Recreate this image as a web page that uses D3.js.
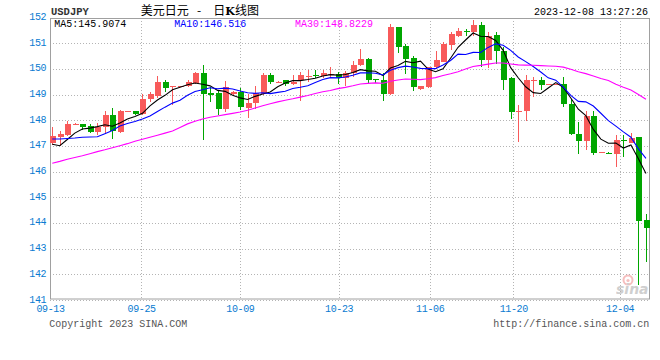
<!DOCTYPE html>
<html><head><meta charset="utf-8">
<script src="https://cdn.jsdelivr.net/npm/d3@7/dist/d3.min.js"></script>
<style>html,body{margin:0;padding:0;background:#fff}</style>
</head><body>
<svg id="chart" width="660" height="360"></svg>
<script>
const symbol = "USDJPY";
const titleMain = "美元日元";
const titleSep = "-";
const titleSub = ["日", "K", "线图"];
const timestamp = "2023-12-08 13:27:26";
const copyright = "Copyright 2023 SINA.COM";
const siteUrl = "http://finance.sina.com.cn";

const opens = [147.10,147.34,147.42,147.85,147.86,147.77,147.56,147.75,148.21,147.55,
148.35,148.36,148.23,148.83,148.95,149.50,149.31,149.31,149.32,149.44,
149.86,149.08,149.05,148.44,149.02,149.09,148.47,148.68,149.01,149.77,
149.50,149.55,149.42,149.55,149.70,149.78,149.73,149.79,149.79,149.66,
149.83,150.14,150.39,149.59,149.57,149.03,151.62,150.90,150.44,149.22,
149.31,150.06,150.29,150.94,151.29,151.49,151.45,151.71,150.33,151.32,
150.71,149.64,148.37,148.38,149.52,149.57,149.41,149.41,149.42,148.64,
147.47,147.20,148.17,146.74,146.74,146.68,147.22,147.13,147.33,144.10];
const highs = [147.75,147.60,147.97,147.88,147.87,147.85,147.88,148.36,148.47,148.40,
148.37,148.37,149.01,149.12,149.73,149.58,149.33,149.33,149.55,149.90,
150.16,149.30,149.18,149.53,149.14,149.25,149.01,149.34,149.83,149.83,
149.52,149.56,149.77,149.87,149.94,149.96,149.95,150.06,149.87,149.93,
150.31,150.77,150.44,149.62,149.83,151.74,151.63,150.97,150.50,149.35,
150.09,150.70,151.04,151.42,151.61,151.56,151.90,151.82,151.43,151.45,
150.86,149.69,148.60,149.77,149.68,149.68,149.43,149.43,149.68,148.82,
147.92,148.36,148.36,146.76,146.75,147.43,147.43,147.50,147.34,144.34];
const lows = [147.02,147.00,147.38,147.84,147.64,147.52,147.42,147.50,147.27,147.52,
148.34,148.20,148.20,148.71,148.87,149.12,148.60,149.30,149.30,149.40,
147.23,148.70,148.20,148.31,149.00,148.41,148.08,148.44,149.00,149.41,
149.49,149.32,149.38,148.75,149.51,149.64,149.64,149.70,149.42,149.35,
149.70,150.10,149.40,149.47,148.75,149.00,150.64,149.81,149.14,149.18,
149.25,149.99,150.28,150.72,151.23,151.30,151.30,150.09,150.02,150.21,
149.19,148.05,147.14,147.97,148.90,149.18,149.40,149.40,148.53,147.43,
146.68,146.84,146.65,146.73,146.67,146.20,146.57,147.10,141.60,142.48];
const closes = [147.40,147.45,147.86,147.86,147.74,147.56,147.75,148.21,147.58,148.36,
148.36,148.23,148.83,149.03,149.50,149.27,149.32,149.32,149.50,149.86,
149.03,148.99,148.44,149.31,149.12,148.50,148.68,149.05,149.77,149.51,
149.51,149.42,149.51,149.77,149.73,149.77,149.83,149.80,149.66,149.86,
150.16,150.38,149.57,149.57,149.03,151.62,150.87,150.39,149.31,149.34,
150.06,150.35,150.97,151.36,151.48,151.48,151.71,150.35,151.30,150.71,
149.55,148.34,148.38,149.55,149.56,149.38,149.42,149.42,148.64,147.47,
147.20,148.17,146.74,146.75,146.68,147.23,147.20,147.32,144.09,143.79];

const ma5 = [147.07,147.01,147.25,147.50,147.662,147.694,147.754,147.824,147.768,147.892,
148.052,148.148,148.272,148.562,148.79,148.972,149.19,149.288,149.382,149.454,
149.406,149.34,149.164,149.126,148.978,148.872,148.81,148.932,149.024,149.102,
149.304,149.452,149.544,149.544,149.588,149.64,149.722,149.78,149.758,149.784,
149.862,149.972,149.926,149.908,149.742,150.034,150.132,150.296,150.244,150.306,
149.994,149.89,150.006,150.416,150.844,151.128,151.40,151.276,151.264,151.11,
150.724,150.05,149.656,149.306,149.076,149.042,149.258,149.466,149.284,148.866,
148.43,148.18,147.644,147.266,147.108,147.114,146.92,147.036,146.504,145.926];
const ma10 = [147.27,147.27,147.29,147.31,147.34,147.35,147.36,147.48,147.60,147.777,
147.873,147.951,148.048,148.165,148.341,148.512,148.669,148.78,148.972,149.122,
149.189,149.265,149.226,149.254,149.216,149.139,149.075,149.048,149.075,149.04,
149.088,149.131,149.238,149.284,149.345,149.472,149.587,149.662,149.651,149.686,
149.751,149.847,149.853,149.833,149.763,149.948,150.052,150.111,150.076,150.024,
150.014,150.011,150.151,150.33,150.575,150.561,150.645,150.641,150.84,150.977,
150.926,150.725,150.466,150.285,150.093,149.883,149.654,149.561,149.295,148.971,
148.736,148.719,148.555,148.275,147.987,147.772,147.55,147.34,146.885,146.517];
const ma30 = [146.33,146.40,146.48,146.55,146.62,146.70,146.78,146.85,146.93,147.01,
147.09,147.18,147.26,147.34,147.42,147.50,147.58,147.72,147.86,147.96,
148.05,148.12,148.17,148.22,148.27,148.32,148.39,148.48,148.57,148.646,
148.717,148.782,148.837,148.901,148.967,149.041,149.110,149.163,149.233,149.283,
149.343,149.414,149.439,149.457,149.441,149.520,149.571,149.607,149.601,149.583,
149.618,149.663,149.747,149.816,149.894,149.994,150.095,150.138,150.189,150.229,
150.230,150.194,150.157,150.149,150.144,150.131,150.117,150.104,150.070,149.991,
149.892,149.818,149.724,149.630,149.552,149.405,149.283,149.181,149.007,148.822];

const maLegend = ["MA5:145.9074", "MA10:146.516", "MA30:148.8229"];
const maColors = ["#000000", "#0000ff", "#ff00ff"];
const yTicks = [141,142,143,144,145,146,147,148,149,150,151,152];
const tickIndex = [0, 12, 25, 38, 50, 61, 75];
const tickLabels = ["09-13", "09-25", "10-09", "10-23", "11-06", "11-20", "12-04"];

const N = closes.length;
const svg = d3.select("#chart");
const mono = "'Liberation Mono','DejaVu Sans Mono',monospace";
const axisBlue = "#0a7bd1";
const upColor = "#f85a5a", downColor = "#00a600";

const L = 50, R = 649, T = 18, B = 299;
const y = d3.scaleLinear().domain([141, 152]).range([300, 17.6]);
const x = d3.scaleBand().domain(d3.range(N)).range([48.5, 649.7]);
const xt = d3.scalePoint().domain(d3.range(N)).range([50, 650]);
const cx = i => x(i) + x.step() / 2;

// grid
const grid = svg.append("g").attr("stroke", "#b4b4b4").attr("stroke-dasharray", "1,2").attr("fill", "none");
grid.selectAll("line.h").data(yTicks.filter(v => v < 152)).join("line")
  .attr("x1", L).attr("x2", R + 1)
  .attr("y1", v => Math.round(y(v)) + 0.5).attr("y2", v => Math.round(y(v)) + 0.5);
grid.selectAll("line.v").data(tickIndex.filter(i => i > 0)).join("line")
  .attr("x1", i => Math.round(xt(i)) + 0.5).attr("x2", i => Math.round(xt(i)) + 0.5)
  .attr("y1", T).attr("y2", B);

// frame
svg.append("rect").attr("x", L + 0.5).attr("y", T + 0.5).attr("width", R - L).attr("height", B - T - 0.5)
  .attr("fill", "none").attr("stroke", "#a0a0a0");

// sina watermark
const logo = svg.append("g").attr("opacity", 0.55);
logo.append("circle").attr("cx", 628).attr("cy", 280).attr("r", 4.5).attr("fill", "none").attr("stroke", "#f08a8a").attr("stroke-width", 2);
logo.append("circle").attr("cx", 628).attr("cy", 280.5).attr("r", 1.6).attr("fill", "#f08a8a");
logo.append("text").attr("x", 616).attr("y", 294).attr("font-family", "'DejaVu Sans',sans-serif")
  .attr("font-style", "italic").attr("font-weight", "bold").attr("font-size", 14).attr("fill", "#a8a8a8").text("sina");

// candles
const candles = svg.append("g").attr("shape-rendering", "crispEdges");
const data = d3.range(N).map(i => ({i, o: opens[i], h: highs[i], l: lows[i], c: closes[i]}));
const g = candles.selectAll("g").data(data).join("g")
  .attr("fill", d => d.c >= d.o ? upColor : downColor)
  .attr("stroke", d => d.c >= d.o ? upColor : downColor);
g.append("line")
  .attr("x1", d => Math.round(cx(d.i) - 3) + 3.5).attr("x2", d => Math.round(cx(d.i) - 3) + 3.5)
  .attr("y1", d => y(d.h)).attr("y2", d => y(d.l)).attr("stroke-width", 1);
g.append("rect")
  .attr("stroke", "none")
  .attr("x", d => Math.round(cx(d.i) - 3) + 0.5)
  .attr("width", 6)
  .attr("y", d => y(Math.max(d.o, d.c)))
  .attr("height", d => Math.max(1, y(Math.min(d.o, d.c)) - y(Math.max(d.o, d.c))));

// MA lines
const line = d3.line().x((d, i) => cx(i)).y(d => y(d));
[ma5, ma10, ma30].forEach((s, k) => {
  svg.append("path").datum(s).attr("d", line).attr("fill", "none")
    .attr("stroke", maColors[k]).attr("stroke-width", 1.1);
});

// MA legend
const legX = [54.3, 174.3, 295];
maLegend.forEach((t, k) => {
  svg.append("text").attr("x", legX[k]).attr("y", 27).attr("font-family", mono)
    .attr("font-size", 10).attr("fill", maColors[k]).text(t);
});

// y axis
const yAxis = d3.axisLeft(y).tickValues(yTicks).tickSize(0).tickPadding(4).tickFormat(d3.format("d"));
svg.append("g").attr("transform", `translate(${L},0)`).call(yAxis)
  .call(a => a.select(".domain").remove())
  .call(a => a.selectAll("text").attr("dy", "0.2em").attr("fill", axisBlue)
    .attr("font-family", mono).attr("font-size", 10).attr("letter-spacing", "-0.45px"));

// x axis
const xAxis = d3.axisBottom(xt).tickValues(tickIndex).tickSize(0).tickPadding(4.8)
  .tickFormat((d, i) => tickLabels[i]);
svg.append("g").attr("transform", `translate(0,300)`).call(xAxis)
  .call(a => a.select(".domain").remove())
  .call(a => a.selectAll("text").attr("fill", axisBlue).attr("font-family", mono)
    .attr("font-size", 10).attr("letter-spacing", "-0.35px"));

// header
svg.append("text").attr("x", 51).attr("y", 15).attr("font-family", mono).attr("font-weight", "bold")
  .attr("font-size", 10.5).attr("fill", "#333").text(symbol);
const cjk = "'Noto Sans CJK SC',sans-serif";
svg.append("text").attr("x", 140.7).attr("y", 14.8).attr("font-family", cjk).attr("font-size", 12).attr("fill", "#000").text(titleMain);
svg.append("text").attr("x", 199.2).attr("y", 14.8).attr("text-anchor", "middle").attr("font-family", cjk).attr("font-size", 12).attr("fill", "#000").text(titleSep);
const sub = svg.append("text").attr("x", 213.3).attr("y", 14.8).attr("font-family", cjk).attr("font-size", 12).attr("fill", "#000");
sub.append("tspan").text(titleSub[0]);
sub.append("tspan").attr("font-weight", "bold").attr("font-family", "'DejaVu Serif',serif").attr("font-size", 11).text(titleSub[1]);
sub.append("tspan").text(titleSub[2]);
svg.append("text").attr("x", 648).attr("y", 15).attr("text-anchor", "end").attr("font-family", mono)
  .attr("font-size", 10).attr("fill", "#000").text(timestamp);

// footer
svg.append("text").attr("x", 49.3).attr("y", 326.7).attr("font-family", mono).attr("font-size", 10)
  .attr("fill", "#555").text(copyright);
svg.append("text").attr("x", 649.3).attr("y", 326.7).attr("text-anchor", "end").attr("font-family", mono).attr("font-size", 10)
  .attr("fill", "#555").text(siteUrl);
</script>
</body></html>
